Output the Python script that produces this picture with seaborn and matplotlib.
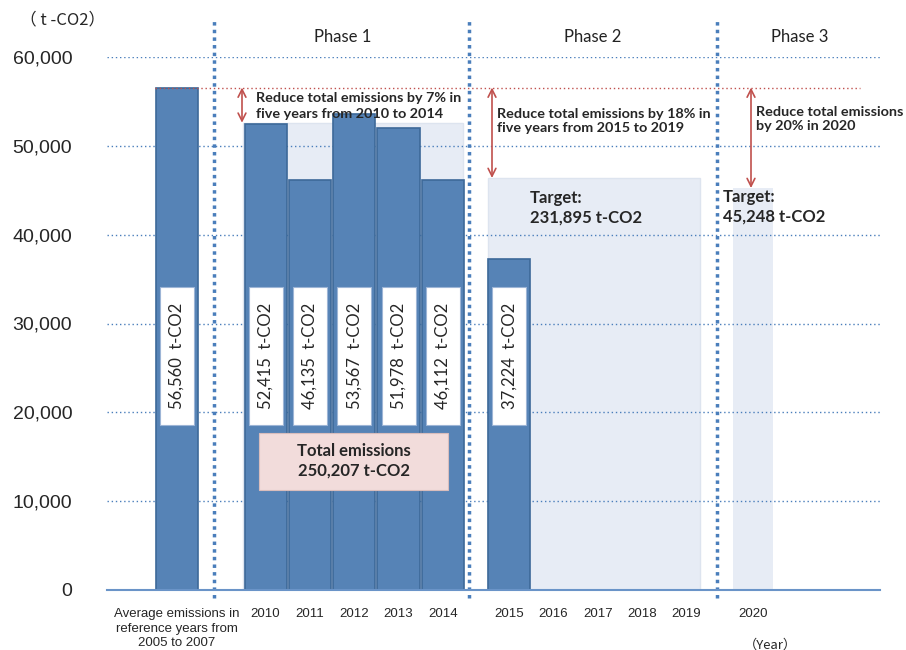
import matplotlib
matplotlib.use("Agg")
import matplotlib.pyplot as plt
from matplotlib.patches import Rectangle
import seaborn as sns
import pandas as pd

# ---------------- data ----------------
bar_categories = ["Reference", "2010", "2011", "2012", "2013", "2014", "2015"]
bar_values = [56560, 52415, 46135, 53567, 51978, 46112, 37224]
bar_labels = ["56,560  t-CO2", "52,415  t-CO2", "46,135  t-CO2", "53,567  t-CO2",
              "51,978  t-CO2", "46,112  t-CO2", "37,224  t-CO2"]
tick_labels = ["Average emissions in\nreference years from\n2005 to 2007",
               "2010", "2011", "2012", "2013", "2014",
               "2015", "2016", "2017", "2018", "2019", "2020"]
reference_level = 56560
phase1_target = 52601          # 7% below reference (per year)
phase2_target = 46379          # 231,895 / 5
phase3_target = 45248
y_ticks = [0, 10000, 20000, 30000, 40000, 50000, 60000]
phase_names = ["Phase 1", "Phase 2", "Phase 3"]

# ---------------- layout (slot positions) ----------------
bar_slots = [0, 2, 3, 4, 5, 6, 7.5]
tick_slots = [0, 2, 3, 4, 5, 6, 7.5, 8.5, 9.5, 10.5, 11.5, 13]

sns.set_style("white")
plt.rcParams["font.family"] = ["Liberation Sans", "DejaVu Sans"]

W, H = 906, 650
fig = plt.figure(figsize=(W / 100, H / 100), dpi=100)
L_PX, R_PX, T_PX, B_PX = 107, 880, 57, 590
ax = fig.add_axes([L_PX / W, 1 - B_PX / H, (R_PX - L_PX) / W, (B_PX - T_PX) / H])

X0_PX, UNIT_PX = 177, 44.3
def px(x):
    return (x - X0_PX) / UNIT_PX
def py(y):
    return (B_PX - y) / (B_PX - T_PX) * 60000

ax.set_xlim(px(L_PX), px(R_PX))
ax.set_ylim(0, 60000)

blue = "#4a7ebb"
bar_color = "#5683b6"
edge_color = "#3d6999"
shade = "#e7ecf5"
red = "#c0504d"
body_font = ["Lato", "DejaVu Sans"]

# shaded target areas
ax.add_patch(Rectangle((px(243), 0), px(463) - px(243), phase1_target,
                       facecolor=shade, edgecolor="#dde4ef", lw=1, zorder=0.5))
ax.add_patch(Rectangle((px(488), 0), px(700) - px(488), phase2_target,
                       facecolor=shade, edgecolor="#dde4ef", lw=1, zorder=0.5))
ax.add_patch(Rectangle((px(733), 0), px(773) - px(733), phase3_target,
                       facecolor=shade, edgecolor="#dde4ef", lw=0, zorder=0.5))

# gridlines
for yv in y_ticks[1:]:
    ax.axhline(yv, color=blue, lw=1, ls=(0, (1, 2)), zorder=1)

# bars via seaborn
df = pd.DataFrame({"pos": bar_slots, "value": bar_values, "cat": bar_categories})
sns.barplot(data=df, x="pos", y="value", native_scale=True, width=0.95,
            color=bar_color, edgecolor=edge_color, linewidth=1.2,
            saturation=1, ax=ax, zorder=2)

# label boxes within bars
box_w = 34 / UNIT_PX
box_lo, box_hi = py(425), py(287)
for xs, lab in zip(bar_slots, bar_labels):
    ax.add_patch(Rectangle((xs - box_w / 2, box_lo), box_w, box_hi - box_lo,
                           facecolor="white", edgecolor="#9db5d6", lw=0.8, zorder=3))
    ax.text(xs, (box_lo + box_hi) / 2, lab, rotation=90, ha="center", va="center",
            fontsize=12, family=body_font, zorder=4)

# reference line
ax.plot([px(155), px(860)], [reference_level, reference_level], color=red,
        lw=1, ls=(0, (1, 2)), zorder=3)

# phase separators
for xpix in [214, 469, 717]:
    ax.plot([px(xpix), px(xpix)], [py(598), py(18)], color=blue, lw=2.5,
            ls=(0, (1, 1.2)), clip_on=False, zorder=4)

# phase titles
for xpix, name in zip([343, 593, 800], phase_names):
    ax.text(px(xpix), py(37), name, ha="center", va="center", fontsize=12,
            family=body_font, color="#222222", clip_on=False)

# arrows
for xpix, low in [(242, phase1_target), (492, phase2_target), (751, phase3_target)]:
    ax.annotate("", xy=(px(xpix), low), xytext=(px(xpix), reference_level),
                arrowprops=dict(arrowstyle="<->", color=red, lw=1.2,
                                mutation_scale=14, shrinkA=0, shrinkB=0),
                zorder=5)

# annotation texts
ann_kw = dict(fontsize=10.4, fontweight="bold", family=body_font, va="center",
              ha="left", linespacing=1.3, zorder=5)
ax.text(px(256), py(106), "Reduce total emissions by 7% in\nfive years from 2010 to 2014", **ann_kw)
ax.text(px(497), py(121), "Reduce total emissions by 18% in\nfive years from 2015 to 2019", **ann_kw)
ax.text(px(756), py(119), "Reduce total emissions\nby 20% in 2020", clip_on=False, **ann_kw)

tgt_kw = dict(fontsize=12, fontweight="bold", family=body_font, va="center",
              ha="left", linespacing=1.3, zorder=5)
ax.text(px(530), py(208), "Target:\n231,895 t-CO2", **tgt_kw)
ax.text(px(723), py(207), "Target:\n45,248 t-CO2", **tgt_kw)

# total emissions box
ax.add_patch(Rectangle((px(259), py(490)), px(448) - px(259), py(433) - py(490),
                       facecolor="#f2dcdb", edgecolor="#d9bdbc", lw=0.8, zorder=5))
ax.text(px(353.5), py(461), "Total emissions\n250,207 t-CO2", ha="center", va="center",
        fontsize=12, fontweight="bold", family=body_font, linespacing=1.3, zorder=6)

# axes styling
for s in ["left", "right", "top"]:
    ax.spines[s].set_visible(False)
ax.spines["bottom"].set_color("#6a94c8")
ax.spines["bottom"].set_linewidth(1.5)
ax.spines["bottom"].set_zorder(6)

ax.set_yticks(y_ticks)
ax.set_yticklabels([f"{v:,}" for v in y_ticks], fontsize=14)
ax.tick_params(axis="y", length=0, pad=25)
ax.set_xticks(tick_slots)
ax.set_xticklabels(tick_labels, fontsize=9.5, linespacing=1.3)
ax.tick_params(axis="x", length=0, pad=13)
ax.set_xlabel("")
ax.set_ylabel("")

fig.text(20 / W, 1 - 20 / H, "（ t -CO2）", fontsize=12, va="center", ha="left",
         family=["Noto Sans CJK JP", "DejaVu Sans"])
fig.text(770 / W, 1 - 645 / H, "（Year）", fontsize=9.5, va="center", ha="center",
         family=["Noto Sans CJK JP", "DejaVu Sans"])

fig.savefig("out.png", dpi=100)
